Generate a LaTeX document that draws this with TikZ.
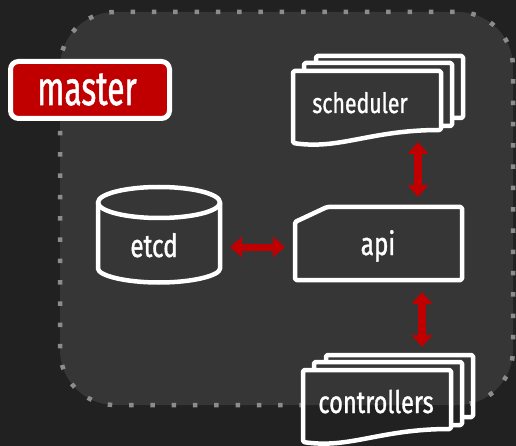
\documentclass[tikz,border=0pt]{standalone}
\usepackage{fontspec}
\setmainfont{Fira Sans}[FakeStretch=0.76, FakeBold=1.1]
\usetikzlibrary{arrows.meta}
\definecolor{bgdark}{HTML}{212121}
\definecolor{panel}{HTML}{363636}
\definecolor{dotgray}{HTML}{8C8C8C}
\definecolor{kred}{HTML}{C00000}
\tikzset{
  outl/.style={draw=white, line width=4.5pt, line join=round, rounded corners=1.5pt},
  lbl/.style={text=white, inner sep=0pt, anchor=base},
  arr/.style={kred, line width=8pt, {Triangle[width=20pt,length=12pt]}-{Triangle[width=20pt,length=12pt]}},
  panelpath/.style={rounded corners=55pt}
}
\newcommand\docstack[2]{% shift x, shift y
\begin{scope}[shift={(#1,#2)}]
  \draw[outl] (316,63) -- (316,56) -- (463,56) -- (463,118) -- (452,118);
  \draw[outl] (304,71) -- (304,63) -- (452,63) -- (452,126) -- (441,126);
  \begin{scope}
    \clip (293,71) -- (441,71) -- (441,130) .. controls (370,130) and (340,150) .. (293,143) -- cycle;
    \fill[bgdark] (-100,-400) rectangle (700,700);
  \end{scope}
\end{scope}
\begin{scope}
  \clip[shift={(#1,#2)}] (293,71) -- (441,71) -- (441,130) .. controls (370,130) and (340,150) .. (293,143) -- cycle;
  \fill[panel, panelpath] (60,12) rectangle (513,405);
\end{scope}
\begin{scope}[shift={(#1,#2)}]
  \draw[outl] (293,71) -- (441,71) -- (441,130) .. controls (370,130) and (340,150) .. (293,143) -- cycle;
\end{scope}
}
\begin{document}
\begin{tikzpicture}[x=1pt, y=-1pt]
\useasboundingbox (0,0) rectangle (516,446);
\fill[bgdark] (0,0) rectangle (516,446);
% panel
\fill[panel, panelpath] (60,12) rectangle (513,405);
\draw[dotgray, line width=4.5pt, dash pattern=on 4.5pt off 16.8pt, panelpath] (60,12) rectangle (513,405);

% master label
\draw[fill=kred, draw=white, line width=5pt, rounded corners=8pt] (10.5,61.5) rectangle (169.5,118.5);
\node[lbl, font=\fontsize{48}{48}\selectfont] (master) at (87,105) {\scalebox{0.87}[1]{master}};

% scheduler and controllers stacks
\docstack{0}{0}
\docstack{10}{299}
\node[lbl, font=\fontsize{28}{28}\selectfont] (sched) at (360,113) {scheduler};
\node[lbl, font=\fontsize{31}{31}\selectfont] (ctrl) at (376,413) {controllers};

% etcd cylinder
\draw[outl] (98,202.5) -- (98,267) arc[start angle=180, end angle=0, x radius=61, y radius=15.5] -- (220,202.5);
\draw[outl] (159,202.5) ellipse[x radius=61, y radius=15.5];
\node[lbl, font=\fontsize{32}{32}\selectfont] (etcd) at (154,257) {etcd};

% api
\draw[outl] (295,222) -- (327,207) -- (462,207) -- (462,280) -- (295,280) -- cycle;
\node[lbl, font=\fontsize{32}{32}\selectfont] (api) at (378,255) {api};

% connectors
\coordinate (sA) at (418,142);
\coordinate (aT) at (418,197);
\coordinate (aB) at (422,292);
\coordinate (cT) at (422,347);
\coordinate (eR) at (230,247);
\coordinate (aL) at (285,247);
\draw[arr] (sA) -- (aT);
\draw[arr] (aB) -- (cT);
\draw[arr, line width=7pt] (eR) -- (aL);
\end{tikzpicture}
\end{document}
